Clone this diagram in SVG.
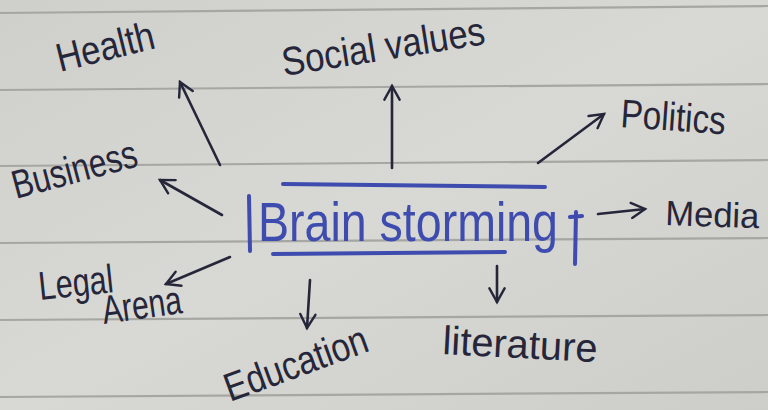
<svg xmlns="http://www.w3.org/2000/svg" width="768" height="410" viewBox="0 0 768 410">
<style>
.lbl{font-family:"Liberation Sans","DejaVu Sans",sans-serif;font-size:40px;fill:#26263a}
.ctr{font-family:"Liberation Sans","DejaVu Sans",sans-serif;font-size:56px;fill:#3d4cae}
.rule{stroke:#a6a7a3;stroke-width:2.2;fill:none}
.conn{stroke:#26263a;stroke-width:2.6;fill:none;stroke-linecap:round;marker-end:url(#ah)}
.blue{stroke:#3d4cae;stroke-width:4;fill:none;stroke-linecap:round}
</style>
<defs>
<linearGradient id="paper" x1="0" y1="0" x2="1" y2="1">
<stop offset="0" stop-color="#cfcfcb"/>
<stop offset="0.5" stop-color="#d8d8d4"/>
<stop offset="1" stop-color="#cdcdc9"/>
</linearGradient>
<marker id="ah" viewBox="0 0 12 12" refX="10" refY="6" markerWidth="7" markerHeight="7" orient="auto" markerUnits="strokeWidth">
<path d="M1,1 L10,6 L1,11" fill="none" stroke="#26263a" stroke-width="1.6" stroke-linecap="round"/>
</marker>
</defs>
<rect width="768" height="410" fill="url(#paper)"/>
<g id="paper-lines">
<path class="rule" d="M0,13 L768,6"/>
<path class="rule" d="M0,90 L768,84"/>
<path class="rule" d="M0,166 L768,160"/>
<path class="rule" d="M0,243 L768,238"/>
<path class="rule" d="M0,320 L768,315"/>
<path class="rule" d="M0,397 L768,392"/>
</g>
<g id="connectors">
<path class="conn" d="M220,165 L180,82"/>
<path class="conn" d="M392,168 L392,86"/>
<path class="conn" d="M538,163 L604,114"/>
<path class="conn" d="M222,215 L160,180"/>
<path class="conn" d="M598,214 L645,209"/>
<path class="conn" d="M230,257 L166,284"/>
<path class="conn" d="M310,280 L307,328"/>
<path class="conn" d="M497,266 L497,302"/>
</g>
<g id="center">
<path class="blue" d="M283,184 L545,187"/>
<path class="blue" d="M273,254 L505,252"/>
<path class="blue" d="M249,196 L250,251"/>
<path class="blue" d="M576,212 L575,264 M570,217 L582,216"/>
<text class="ctr" x="258" y="241" textLength="300" lengthAdjust="spacingAndGlyphs">Brain storming</text>
</g>
<g id="health"><text class="lbl" transform="translate(60,72) rotate(-14)" textLength="100" lengthAdjust="spacingAndGlyphs">Health</text></g>
<g id="social-values"><text class="lbl" transform="translate(284,76) rotate(-9)" textLength="205" lengthAdjust="spacingAndGlyphs">Social values</text></g>
<g id="politics"><text class="lbl" transform="translate(620,127) rotate(4)" textLength="105" lengthAdjust="spacingAndGlyphs">Politics</text></g>
<g id="business"><text class="lbl" transform="translate(16,199) rotate(-15)" textLength="128" lengthAdjust="spacingAndGlyphs">Business</text></g>
<g id="media"><text class="lbl" style="font-size:35px" transform="translate(665,225) rotate(2)" textLength="94" lengthAdjust="spacingAndGlyphs">Media</text></g>
<g id="legal-arena">
<text class="lbl" transform="translate(40,300) rotate(-6)" textLength="75" lengthAdjust="spacingAndGlyphs">Legal</text>
<text class="lbl" transform="translate(104,324) rotate(-8)" textLength="80" lengthAdjust="spacingAndGlyphs">Arena</text>
</g>
<g id="education"><text class="lbl" transform="translate(230,402) rotate(-20)" textLength="150" lengthAdjust="spacingAndGlyphs">Education</text></g>
<g id="literature"><text class="lbl" transform="translate(442,354) rotate(3)" textLength="155" lengthAdjust="spacingAndGlyphs">literature</text></g>
</svg>
